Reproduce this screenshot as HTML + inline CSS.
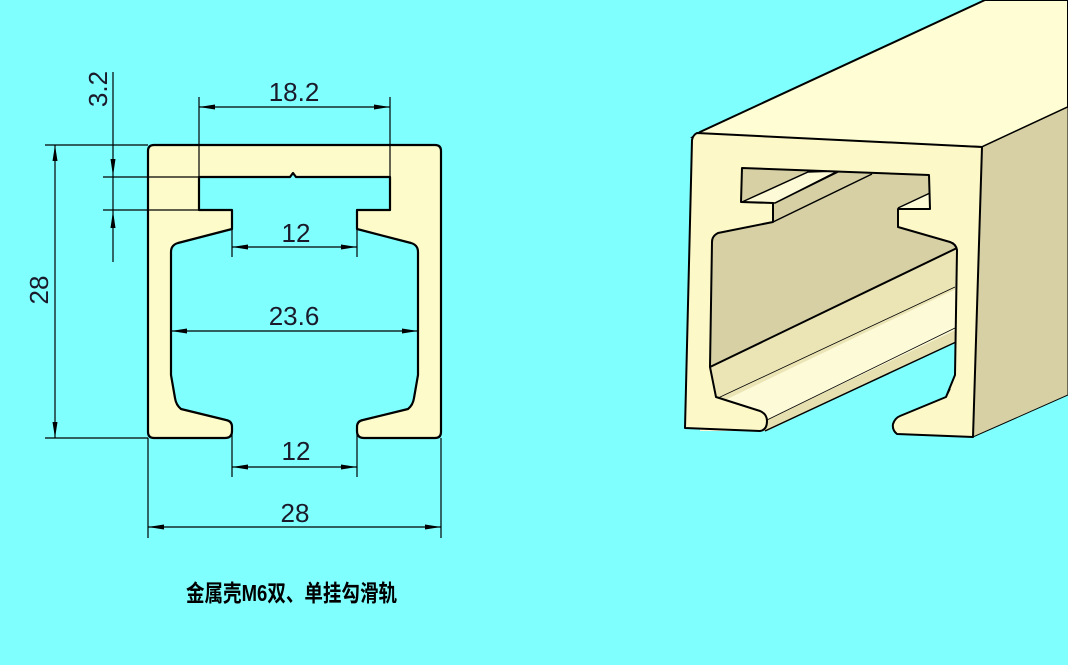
<!DOCTYPE html>
<html><head><meta charset="utf-8"><style>
html,body{margin:0;padding:0;background:#80ffff;}
svg{display:block;}
text{font-family:"Liberation Sans","Noto Sans CJK SC",sans-serif;}
</style></head><body>
<svg width="1068" height="665" viewBox="0 0 1068 665" xmlns="http://www.w3.org/2000/svg">
<rect width="1068" height="665" fill="#80ffff"/>
<!-- Left profile -->
<path d="M154,145 L435,145 Q441,145 441,151 L441,432 Q441,438 435,438 L364,438 Q357,438 357,431 L357,427 Q357,421 363,420 L408,409 Q413,405 414,398 L418,375 L418,252 Q418,245 411,243 L357,229 L357,210 L390,210 L390,177 L296,177 L293,173 L290,177 L199,177 L199,210 L232,210 L232,229 L178,243 Q171,245 171,252 L171,375 L175,398 Q176,405 181,409 L226,420 Q232,421 232,427 L232,431 Q232,438 225,438 L154,438 Q148,438 148,432 L148,151 Q148,145 154,145 Z" fill="#fdfbc9" stroke="#000" stroke-width="2.2" stroke-linejoin="round"/>
<g stroke="#000" stroke-width="1.2" fill="none">
<line x1="199" y1="97" x2="199" y2="177"/><line x1="390" y1="97" x2="390" y2="177"/>
<line x1="199" y1="107" x2="390" y2="107"/>
<line x1="232" y1="229" x2="232" y2="257"/><line x1="357" y1="229" x2="357" y2="257"/>
<line x1="232" y1="247" x2="357" y2="247"/>
<line x1="171" y1="331" x2="418" y2="331"/>
<line x1="232" y1="432" x2="232" y2="477"/><line x1="357" y1="432" x2="357" y2="477"/>
<line x1="232" y1="467" x2="357" y2="467"/>
<line x1="148" y1="438" x2="148" y2="538"/><line x1="441" y1="438" x2="441" y2="538"/>
<line x1="148" y1="527" x2="441" y2="527"/>
<line x1="45" y1="145" x2="148" y2="145"/><line x1="45" y1="438" x2="148" y2="438"/>
<line x1="55" y1="145" x2="55" y2="438"/>
<line x1="103" y1="177" x2="199" y2="177"/><line x1="103" y1="210" x2="199" y2="210"/>
<line x1="113" y1="72" x2="113" y2="262"/>
</g>
<g fill="#000">
<polygon points="199,107 215,104.5 215,109.5"/><polygon points="390,107 374,104.5 374,109.5"/>
<polygon points="232,247 248,244.5 248,249.5"/><polygon points="357,247 341,244.5 341,249.5"/>
<polygon points="171,331 187,328.5 187,333.5"/><polygon points="418,331 402,328.5 402,333.5"/>
<polygon points="232,467 248,464.5 248,469.5"/><polygon points="357,467 341,464.5 341,469.5"/>
<polygon points="148,527 164,524.5 164,529.5"/><polygon points="441,527 425,524.5 425,529.5"/>
<polygon points="55,145 52.5,161 57.5,161"/><polygon points="55,438 52.5,422 57.5,422"/>
<polygon points="113,176 110.5,159 115.5,159"/><polygon points="113,211 110.5,228 115.5,228"/>
</g>
<g fill="#1a1a2a" font-size="26" text-anchor="middle">
<text x="294" y="101">18.2</text>
<text x="296" y="242">12</text>
<text x="294" y="325">23.6</text>
<text x="296" y="460">12</text>
<text x="295" y="522">28</text>
<text transform="translate(48,290) rotate(-90)">28</text>
<text transform="translate(107,89) rotate(-90)">3.2</text>
</g>
<text x="186" y="601" font-size="23" font-weight="bold" textLength="211" lengthAdjust="spacingAndGlyphs" fill="#000">金属壳M6双、单挂勾滑轨</text>

<!-- Right 3D -->
<polygon points="693,137 700,132 985,0 1068,0 1068,107 982,147" fill="#fefdd3" stroke="#000" stroke-width="2"/>
<polygon points="982,147 1068,107 1068,395 973,437" fill="#d6d0a4" stroke="#000" stroke-width="1"/>
<polygon points="700,160 960,160 960,345 765,432 700,432" fill="#d6d0a4"/>
<polygon points="700,371 960,246 960,287 700,412" fill="#ebe5b6"/>
<polygon points="700,412 960,287 960,328 700,452" fill="#fdfad8"/>
<polygon points="700,452 960,328 960,343 700,470" fill="#e6e0b0"/>
<polygon points="765,432 958,341 960,445 765,445" fill="#80ffff"/>
<rect x="675" y="431" width="100" height="50" fill="#80ffff"/>
<polygon points="742,202 808,172 838,171 775,203" fill="#fdfad8" stroke="#000" stroke-width="1.5"/>
<polygon points="898,208 930,193 930,208" fill="#fdfad8"/>
<g stroke="#000" fill="none">
<line x1="775" y1="203" x2="838" y2="172" stroke-width="1.5"/>
<line x1="773" y1="222" x2="872" y2="174" stroke-width="1.5"/>
<line x1="898" y1="208" x2="930" y2="193" stroke-width="1.5"/>
<line x1="710" y1="367" x2="957" y2="248" stroke-width="2"/>
<line x1="718" y1="398" x2="955" y2="287" stroke-width="0.8"/>
<line x1="767" y1="420" x2="955" y2="328" stroke-width="0.8"/>
<line x1="765" y1="431" x2="956" y2="342" stroke-width="1.5"/>
<line x1="982" y1="147" x2="1068" y2="107" stroke-width="0.8"/>
</g>
<path d="M697,133 L982,147 L973,437 L897,434 Q892,430 893,424 Q895,418 900,416 L946,397 L955,375 L957,250 Q956,244 950,242 L898,227 L898,209 L930,209 L929,175 L742,168 L741,202 L773,203 L773,222 L718,233 Q712,236 712,242 L710,367 L716,397 L760,411 Q767,414 767,421 Q767,430 760,431 L685,428 L692,140 Q693,135 697,133 Z" fill="#fdf8c8" stroke="#000" stroke-width="2" stroke-linejoin="round"/>
<path d="M946,397 L950,389" stroke="#000" stroke-width="1.5"/>
</svg>
</body></html>
